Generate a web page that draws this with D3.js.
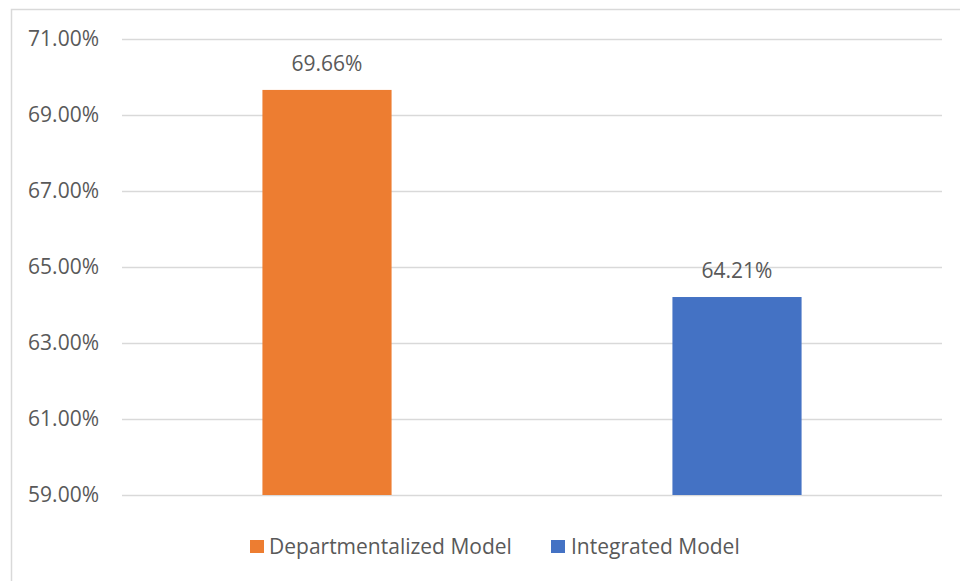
<!DOCTYPE html>
<html><head><meta charset="utf-8">
<script src="https://cdn.jsdelivr.net/npm/d3@7"></script>
<style>body{margin:0;background:#fff}svg{display:block}text{font-family:"Open Sans",sans-serif;fill:#595959}</style>
</head><body><svg id="c" width="960" height="581"></svg>
<script>
const categories = ["Departmentalized Model", "Integrated Model"];
const values = [69.66, 64.21];
const colors = ["#ED7D31", "#4472C4"];
const yTicks = [59, 61, 63, 65, 67, 69, 71];

const svg = d3.select("#c");
const fs = 21;
// chart frame
svg.append("rect").attr("x", 11.5).attr("y", 9.5).attr("width", 960).attr("height", 600)
  .attr("fill", "none").attr("stroke", "#d9d9d9").attr("stroke-width", 1.5);

const x = d3.scaleBand().domain(categories).range([122, 942]).paddingInner(0.685).paddingOuter(0.3425);
const y = d3.scaleLinear().domain([59, 71]).range([495, 39]);

const yAxis = d3.axisLeft(y).tickValues(yTicks).tickSize(-(942 - 122)).tickPadding(23)
  .tickFormat(d => d.toFixed(2) + "%");
const ga = svg.append("g").attr("transform", "translate(122,0)").call(yAxis);
ga.select(".domain").remove();
ga.selectAll(".tick line").attr("stroke", "#d9d9d9").attr("stroke-width", 1.3);
ga.selectAll(".tick text").attr("font-size", fs).attr("fill", "#595959").attr("font-family", '"Open Sans",sans-serif');

svg.append("g").selectAll("rect").data(categories).join("rect")
  .attr("x", d => x(d)).attr("width", x.bandwidth())
  .attr("y", (d, i) => y(values[i])).attr("height", (d, i) => y(59) - y(values[i]))
  .attr("fill", (d, i) => colors[i]);

svg.append("g").selectAll("text").data(categories).join("text")
  .attr("x", d => x(d) + x.bandwidth() / 2)
  .attr("y", (d, i) => y(values[i]) - 19)
  .attr("text-anchor", "middle").attr("font-size", fs)
  .text((d, i) => values[i].toFixed(2) + "%");

// legend
const leg = [{x: 250, tx: 269}, {x: 551, tx: 571}];
const lg = svg.append("g");
categories.forEach((c, i) => {
  lg.append("rect").attr("x", leg[i].x).attr("y", 540).attr("width", 14).attr("height", 13).attr("fill", colors[i]);
  lg.append("text").attr("x", leg[i].tx).attr("y", 554).attr("font-size", fs).text(c);
});
</script></body></html>
